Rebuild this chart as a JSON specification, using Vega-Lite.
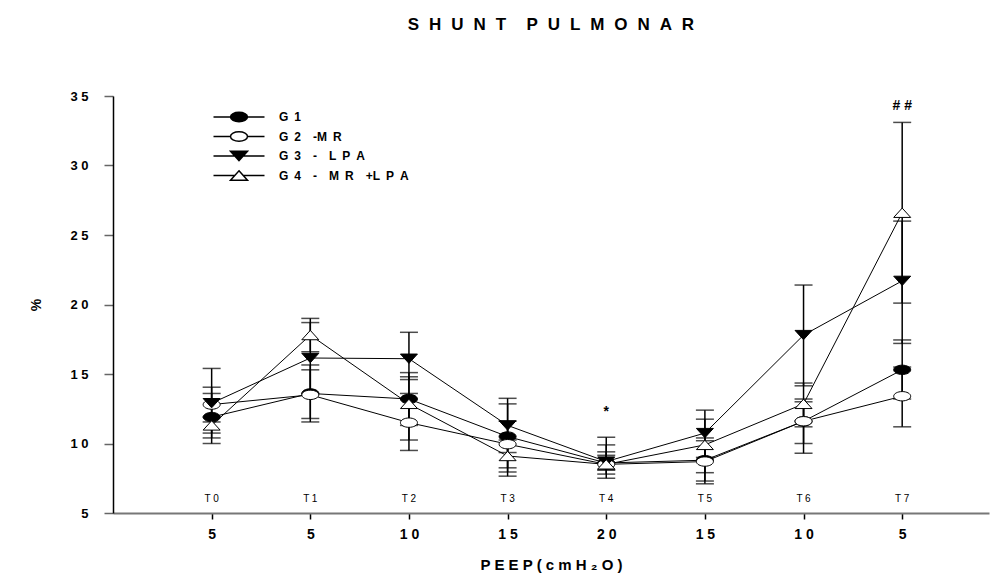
{
  "$schema": "https://vega.github.io/schema/vega-lite/v6.json",
  "width": 876,
  "height": 417,
  "autosize": {"type": "none"},
  "padding": {"left": 113, "top": 96, "right": 2, "bottom": 71},
  "background": "white",
  "config": {"view": {"stroke": null}, "font": "Liberation Sans"},
  "title": {"text": "S\u2002\u200aH\u2002\u200aU\u2002\u200aN\u2002\u200aT\u2003\u2009P\u2002\u200aU\u2002\u200aL\u2002\u200aM\u2002\u200aO\u2002\u200aN\u2002\u200aA\u2002\u200aR", "fontSize": 17, "fontWeight": "bold", "font": "Liberation Sans", "anchor": "middle", "offset": 56, "color": "black"},
  "datasets": {
    "stats": [
      {"t": 0, "group": "G1", "mean": 11.9, "lo": 10.0, "hi": 13.6},
      {"t": 0, "group": "G2", "mean": 12.8, "lo": 11.55, "hi": 14.05},
      {"t": 0, "group": "G3", "mean": 12.9, "lo": 10.4, "hi": 15.4},
      {"t": 0, "group": "G4", "mean": 11.3, "lo": 10.75, "hi": 11.9},
      {"t": 1, "group": "G1", "mean": 13.6, "lo": 11.55, "hi": 15.65},
      {"t": 1, "group": "G2", "mean": 13.5, "lo": 11.8, "hi": 15.3},
      {"t": 1, "group": "G3", "mean": 16.15, "lo": 13.6, "hi": 18.7},
      {"t": 1, "group": "G4", "mean": 17.8, "lo": 16.6, "hi": 19.0},
      {"t": 2, "group": "G1", "mean": 13.2, "lo": 11.3, "hi": 15.1},
      {"t": 2, "group": "G2", "mean": 11.5, "lo": 9.5, "hi": 13.6},
      {"t": 2, "group": "G3", "mean": 16.1, "lo": 14.6, "hi": 18.0},
      {"t": 2, "group": "G4", "mean": 12.85, "lo": 10.25, "hi": 14.8},
      {"t": 3, "group": "G1", "mean": 10.5, "lo": 8.25, "hi": 12.85},
      {"t": 3, "group": "G2", "mean": 9.95, "lo": 7.65, "hi": 11.6},
      {"t": 3, "group": "G3", "mean": 11.3, "lo": 9.35, "hi": 13.25},
      {"t": 3, "group": "G4", "mean": 9.1, "lo": 7.95, "hi": 10.25},
      {"t": 4, "group": "G1", "mean": 8.6, "lo": 7.5, "hi": 9.9},
      {"t": 4, "group": "G2", "mean": 8.5, "lo": 8.1, "hi": 9.15},
      {"t": 4, "group": "G3", "mean": 8.7, "lo": 7.8, "hi": 10.45},
      {"t": 4, "group": "G4", "mean": 8.5, "lo": 8.1, "hi": 9.4},
      {"t": 5, "group": "G1", "mean": 8.8, "lo": 7.1, "hi": 10.4},
      {"t": 5, "group": "G2", "mean": 8.7, "lo": 7.3, "hi": 10.2},
      {"t": 5, "group": "G3", "mean": 10.75, "lo": 9.0, "hi": 12.4},
      {"t": 5, "group": "G4", "mean": 9.9, "lo": 7.9, "hi": 11.75},
      {"t": 6, "group": "G1", "mean": 11.6, "lo": 9.3, "hi": 13.0},
      {"t": 6, "group": "G2", "mean": 11.6, "lo": 10.0, "hi": 13.2},
      {"t": 6, "group": "G3", "mean": 17.8, "lo": 14.15, "hi": 21.4},
      {"t": 6, "group": "G4", "mean": 12.85, "lo": 11.2, "hi": 14.35},
      {"t": 7, "group": "G1", "mean": 15.3, "lo": 13.2, "hi": 17.45},
      {"t": 7, "group": "G2", "mean": 13.4, "lo": 11.2, "hi": 15.5},
      {"t": 7, "group": "G3", "mean": 21.7, "lo": 17.2, "hi": 26.0},
      {"t": 7, "group": "G4", "mean": 26.6, "lo": 20.1, "hi": 33.1}
    ],
    "tlabels": [
      {"t": 0, "tl": "T 0"}, {"t": 1, "tl": "T 1"}, {"t": 2, "tl": "T 2"}, {"t": 3, "tl": "T 3"},
      {"t": 4, "tl": "T 4"}, {"t": 5, "tl": "T 5"}, {"t": 6, "tl": "T 6"}, {"t": 7, "tl": "T 7"}
    ],
    "marks": [
      {"t": 4, "s": "*", "v": 12.3},
      {"t": 7, "s": "# #", "v": 34.3}
    ]
  },
  "encoding": {
    "x": {
      "field": "t", "type": "quantitative",
      "scale": {"domain": [-1, 7.88], "nice": false, "zero": false},
      "axis": {
        "values": [0, 1, 2, 3, 4, 5, 6, 7],
        "labelExpr": "['5','5','1 0','1 5','2 0','1 5','1 0','5'][datum.value]",
        "grid": false, "domainColor": "#777777", "domainWidth": 2,
        "tickColor": "black", "tickWidth": 1.5, "tickSize": 6,
        "labelFontSize": 14, "labelFontWeight": "bold", "labelFont": "Liberation Sans", "labelColor": "black", "labelPadding": 8,
        "title": "P E E P ( c m H ₂ O )", "titleFontSize": 15, "titleFontWeight": "bold", "titleFont": "Liberation Sans", "titleColor": "black", "titlePadding": 16
      }
    }
  },
  "layer": [
    {
      "data": {"name": "stats"},
      "mark": {"type": "rule", "strokeWidth": 1.5, "color": "black"},
      "encoding": {
        "y": {
          "field": "lo", "type": "quantitative",
          "scale": {"domain": [5, 35], "nice": false, "zero": false},
          "axis": {
            "values": [5, 10, 15, 20, 25, 30, 35],
            "labelExpr": "datum.value >= 10 ? substring(datum.label,0,1) + ' ' + substring(datum.label,1,2) : datum.label",
            "grid": false, "domainColor": "black", "domainWidth": 1.5,
            "tickColor": "#666666", "tickWidth": 1.5, "tickSize": 9,
            "labelFontSize": 13, "labelFontWeight": "bold", "labelFont": "Liberation Sans", "labelColor": "black", "labelPadding": 16,
            "title": "%", "titleFontSize": 14, "titleFontWeight": "bold", "titleFont": "Liberation Sans", "titleColor": "black", "titlePadding": 26
          }
        },
        "y2": {"field": "hi"}
      }
    },
    {
      "data": {"name": "stats"},
      "mark": {"type": "tick", "orient": "horizontal", "size": 18, "thickness": 1.5, "color": "black"},
      "encoding": {"y": {"field": "lo", "type": "quantitative", "title": "%"}}
    },
    {
      "data": {"name": "stats"},
      "mark": {"type": "tick", "orient": "horizontal", "size": 18, "thickness": 1.5, "color": "black"},
      "encoding": {"y": {"field": "hi", "type": "quantitative", "title": "%"}}
    },
    {
      "data": {"name": "stats"},
      "mark": {"type": "line", "color": "black", "strokeWidth": 1},
      "encoding": {
        "y": {"field": "mean", "type": "quantitative", "title": "%"},
        "detail": {"field": "group"},
        "order": {"field": "t"}
      }
    },
    {
      "data": {"name": "stats"},
      "mark": {"type": "point", "filled": true, "size": 289, "stroke": "black", "strokeWidth": 1, "opacity": 1},
      "encoding": {
        "y": {"field": "mean", "type": "quantitative", "title": "%"},
        "shape": {
          "field": "group", "type": "nominal",
          "scale": {
            "domain": ["G1", "G2", "G3", "G4"],
            "range": [
              "M-1,0A1,0.55,0,1,1,1,0A1,0.55,0,1,1,-1,0Z",
              "M-1,0A1,0.55,0,1,1,1,0A1,0.55,0,1,1,-1,0Z",
              "M-1,-0.55L1,-0.55L0,0.55Z",
              "M0,-0.55L1,0.55L-1,0.55Z"
            ]
          },
          "legend": null
        },
        "fill": {
          "field": "group", "type": "nominal",
          "scale": {"domain": ["G1", "G2", "G3", "G4"], "range": ["black", "white", "black", "white"]},
          "legend": null
        }
      }
    },
    {
      "data": {"name": "stats"},
      "transform": [{"filter": "datum.t < 0"}],
      "mark": {"type": "point", "filled": false, "size": 289, "color": "black", "strokeWidth": 1, "opacity": 1},
      "encoding": {
        "y": {"field": "mean", "type": "quantitative", "title": "%"},
        "shape": {
          "field": "group", "type": "nominal",
          "scale": {
            "domain": ["G1", "G2", "G3", "G4"],
            "range": [
              "M-3,0L3,0M-1,0A1,0.55,0,1,1,1,0A1,0.55,0,1,1,-1,0ZM-0.996,-0.05L0.996,-0.05M-0.983,-0.1L0.983,-0.1M-0.962,-0.15L0.962,-0.15M-0.932,-0.2L0.932,-0.2M-0.891,-0.25L0.891,-0.25M-0.838,-0.3L0.838,-0.3M-0.771,-0.35L0.771,-0.35M-0.686,-0.4L0.686,-0.4M-0.575,-0.45L0.575,-0.45M-0.417,-0.5L0.417,-0.5M-0.996,0.05L0.996,0.05M-0.983,0.1L0.983,0.1M-0.962,0.15L0.962,0.15M-0.932,0.2L0.932,0.2M-0.891,0.25L0.891,0.25M-0.838,0.3L0.838,0.3M-0.771,0.35L0.771,0.35M-0.686,0.4L0.686,0.4M-0.575,0.45L0.575,0.45M-0.417,0.5L0.417,0.5",
              "M-3,0L-1,0M1,0L3,0M-1,0A1,0.55,0,1,1,1,0A1,0.55,0,1,1,-1,0Z",
              "M-3,0L3,0M-1,-0.55L1,-0.55L0,0.55ZM-0.955,-0.5L0.955,-0.5M-0.909,-0.45L0.909,-0.45M-0.864,-0.4L0.864,-0.4M-0.818,-0.35L0.818,-0.35M-0.773,-0.3L0.773,-0.3M-0.727,-0.25L0.727,-0.25M-0.682,-0.2L0.682,-0.2M-0.636,-0.15L0.636,-0.15M-0.591,-0.1L0.591,-0.1M-0.545,-0.05L0.545,-0.05M-0.5,0L0.5,0M-0.455,0.05L0.455,0.05M-0.409,0.1L0.409,0.1M-0.364,0.15L0.364,0.15M-0.318,0.2L0.318,0.2M-0.273,0.25L0.273,0.25M-0.227,0.3L0.227,0.3M-0.182,0.35L0.182,0.35M-0.136,0.4L0.136,0.4M-0.091,0.45L0.091,0.45M-0.045,0.5L0.045,0.5",
              "M-3,0L-0.5,0M0.5,0L3,0M0,-0.55L1,0.55L-1,0.55Z"
            ]
          },
          "legend": {
            "orient": "none", "legendX": 116.5, "legendY": 11.5, "title": null, "padding": 0,
            "labelFont": "Liberation Sans", "labelFontSize": 12, "labelFontWeight": "bold", "labelColor": "black",
            "labelOffset": 30.5, "rowPadding": 1.5, "symbolSize": 289,
            "labelExpr": "{'G1': 'G\u20021', 'G2': 'G\u20022\u2003-M\u2002R', 'G3': 'G\u20023\u2003-\u2002\u2002L\u2002P\u2002A', 'G4': 'G\u20024\u2003-\u2002\u2002M\u2002R\u2003+L\u2002P\u2002A'}[datum.value]"
          }
        }
      }
    },
    {
      "data": {"name": "tlabels"},
      "mark": {"type": "text", "fontSize": 10, "font": "Liberation Sans", "color": "black"},
      "encoding": {
        "y": {"datum": 6.0, "type": "quantitative", "title": "%"},
        "text": {"field": "tl"}
      }
    },
    {
      "data": {"name": "marks"},
      "mark": {"type": "text", "fontSize": 14, "fontWeight": "bold", "font": "Liberation Sans", "color": "black"},
      "encoding": {
        "y": {"field": "v", "type": "quantitative", "title": "%"},
        "text": {"field": "s"}
      }
    }
  ],
  "resolve": {"scale": {"shape": "independent", "fill": "independent"}}
}
